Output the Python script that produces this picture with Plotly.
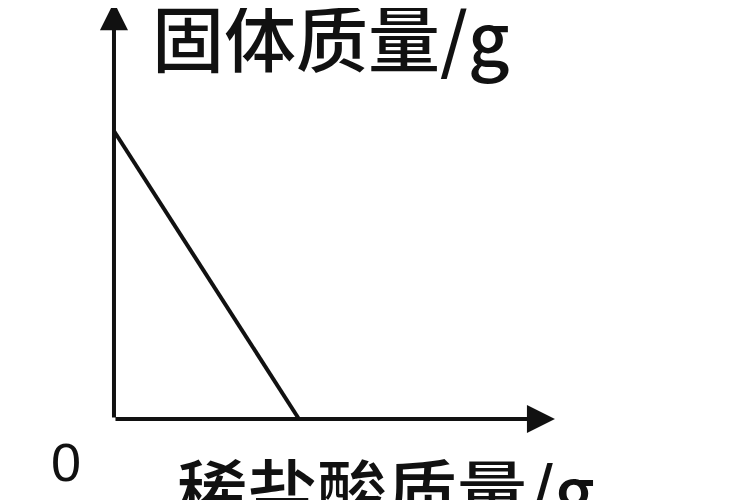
import plotly.graph_objects as go

# 固体质量随稀盐酸质量的变化（示意图，无刻度）
acid_mass = [0, 5]      # 稀盐酸质量/g
solid_mass = [8, 0]     # 固体质量/g

x_title = "稀盐酸质量/g"
y_title = "固体质量/g"
origin_label = "0"

# axis extents (where the arrow tips end), in data units
x_axis_end = 11.92
y_axis_end = 11.58

INK = "#111111"
CJK_FONT = "Noto Sans CJK SC, Noto Sans, sans-serif"

fig = go.Figure()

fig.add_trace(
    go.Scatter(
        x=acid_mass,
        y=solid_mass,
        mode="lines",
        line={"color": INK, "width": 4},
        hoverinfo="skip",
        showlegend=False,
    )
)

# axes drawn as arrows from the origin
for tip_x, tip_y in [(x_axis_end, 0), (0, y_axis_end)]:
    fig.add_annotation(
        x=tip_x,
        y=tip_y,
        ax=0,
        ay=0,
        xref="x",
        yref="y",
        axref="x",
        ayref="y",
        text="",
        showarrow=True,
        arrowhead=2,
        arrowsize=1.4,
        arrowwidth=4,
        arrowcolor=INK,
    )

# the page body adds an 8px offset, so labels sit a bit up/left in paper units
fig.add_annotation(
    text=y_title,
    x=0.189,
    y=0.948,
    xref="paper",
    yref="paper",
    xanchor="left",
    yanchor="middle",
    showarrow=False,
    font={"family": CJK_FONT, "size": 72, "color": INK, "weight": 500},
)
fig.add_annotation(
    text=x_title,
    x=0.223,
    y=0.04,
    xref="paper",
    yref="paper",
    xanchor="left",
    yanchor="middle",
    showarrow=False,
    font={"family": CJK_FONT, "size": 70, "color": INK, "weight": 500},
)
fig.add_annotation(
    text=origin_label,
    x=0.077,
    y=0.092,
    xref="paper",
    yref="paper",
    xanchor="center",
    yanchor="middle",
    showarrow=False,
    font={"family": "Liberation Sans, Arial, sans-serif", "size": 54, "color": INK},
)

fig.update_xaxes(range=[-2.865, 17.41], visible=False, fixedrange=True)
fig.update_yaxes(range=[-2.472, 11.417], visible=False, fixedrange=True)
fig.update_layout(
    width=750,
    height=500,
    margin={"l": 0, "r": 0, "t": 0, "b": 0},
    paper_bgcolor="white",
    plot_bgcolor="white",
    showlegend=False,
)

fig.write_html("out.html")
